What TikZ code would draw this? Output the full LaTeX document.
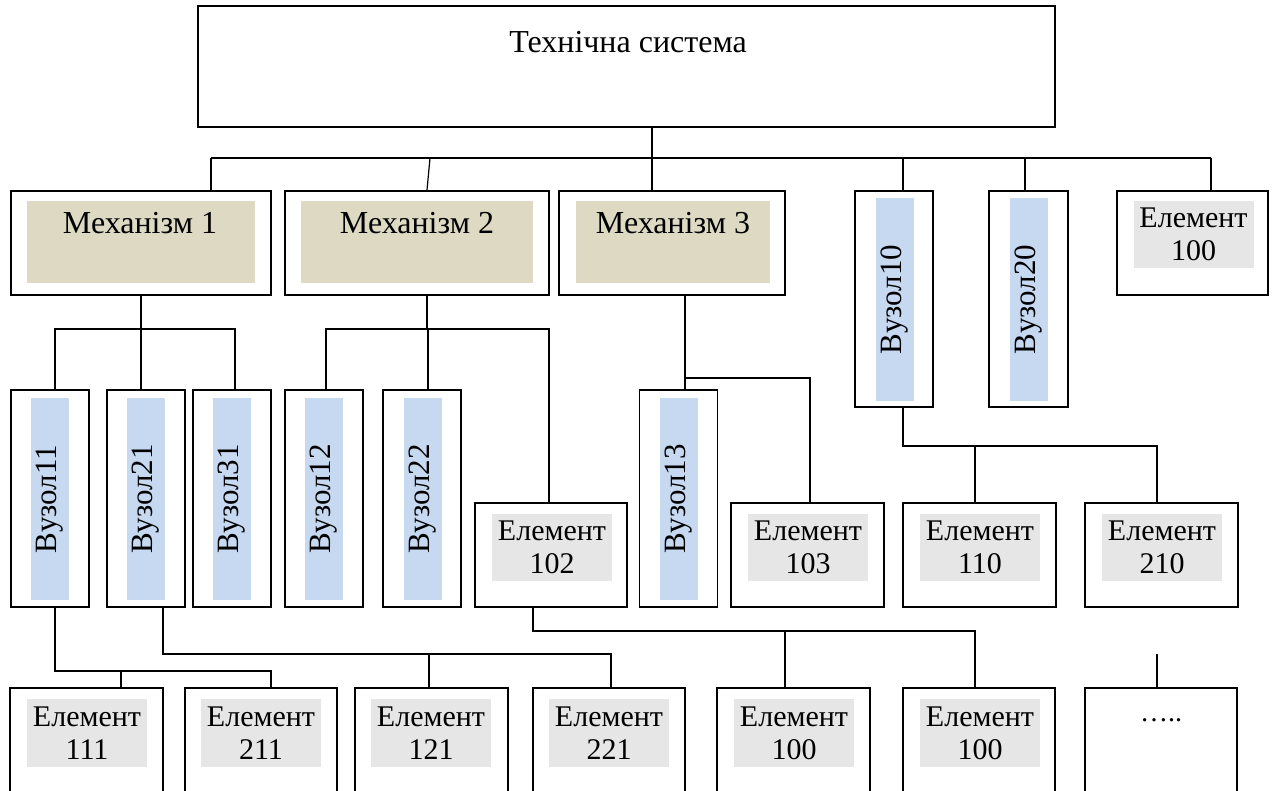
\documentclass[tikz,border=0pt]{standalone}
\usepackage{fontspec}
\setmainfont{Liberation Serif}
\definecolor{mechfill}{HTML}{DDD9C3}
\definecolor{vuzfill}{HTML}{C6D9F1}
\definecolor{elfill}{HTML}{E6E6E6}
\begin{document}
\begin{tikzpicture}[x=1pt,y=-1pt,
  outerbox/.style={draw=black, line width=1.6pt, inner sep=0pt},
  mechin/.style={fill=mechfill, inner sep=0pt, minimum width=#1, minimum height=82pt},
  vuzin/.style={fill=vuzfill, inner sep=0pt, rotate=90, minimum width=202pt, minimum height=38pt, font=\fontsize{31}{33}\selectfont},
  elin/.style={fill=elfill, inner sep=0pt, align=center, minimum width=120pt, minimum height=67pt, font=\fontsize{30}{33}\selectfont},
  lbl/.style={inner sep=0pt, font=\fontsize{32}{33}\selectfont},
  conn/.style={line width=1.2pt, line join=miter}
]
\useasboundingbox (0,0) rectangle (1273,791);
\clip (0,0) rectangle (1273,791);

% top
\node[outerbox, minimum width=857pt, minimum height=121pt] (top) at (626.5,66.5) {};
\node[lbl] (toplbl) at (628,42) {Технічна система};

% row 1
\node[outerbox, minimum width=260pt, minimum height=104pt] (m1) at (141,243) {};
\node[mechin=228pt] (m1in) at (141,242) {};
\node[lbl] (m1t) at (140,223) {Механізм 1};
\node[outerbox, minimum width=264pt, minimum height=104pt] (m2) at (417,243) {};
\node[mechin=232pt] (m2in) at (417,242) {};
\node[lbl] (m2t) at (417,223) {Механізм 2};
\node[outerbox, minimum width=226pt, minimum height=104pt] (m3) at (672,243) {};
\node[mechin=194pt] (m3in) at (673,242) {};
\node[lbl] (m3t) at (673,223) {Механізм 3};
\node[outerbox, minimum width=78pt, minimum height=216pt] (v10) at (894,299) {};
\node[vuzin] (v10in) at (895,299.5) {Вузол10};
\node[outerbox, minimum width=79pt, minimum height=216pt] (v20) at (1028.5,299) {};
\node[vuzin] (v20in) at (1029,299.5) {Вузол20};
\node[outerbox, minimum width=151pt, minimum height=104pt] (e100t) at (1192.5,243) {};
\node[elin] (e100tin) at (1193.5,234.5) {Елемент\\100};

% row 3
\foreach \n/\cx in {v11/50, v21/146, v31/232, v12/324, v22/422, v13/678.5}{
  \node[outerbox, minimum width=78pt, minimum height=217pt] (\n) at (\cx,498.5) {};
}
\node[vuzin] (v11in) at (50,499) {Вузол11};
\node[vuzin] (v21in) at (146,499) {Вузол21};
\node[vuzin] (v31in) at (232,499) {Вузол31};
\node[vuzin] (v12in) at (324,499) {Вузол12};
\node[vuzin] (v22in) at (423,499) {Вузол22};
\node[vuzin] (v13in) at (679,499) {Вузол13};

\node[outerbox, minimum width=152pt, minimum height=104pt] (e102) at (551,555) {};
\node[elin] (e102in) at (552,547.5) {Елемент\\102};
\node[outerbox, minimum width=153pt, minimum height=104pt] (e103) at (807.5,555) {};
\node[elin] (e103in) at (808,547.5) {Елемент\\103};
\node[outerbox, minimum width=153pt, minimum height=104pt] (e110) at (979.5,555) {};
\node[elin] (e110in) at (980,547.5) {Елемент\\110};
\node[outerbox, minimum width=153pt, minimum height=104pt] (e210) at (1161.5,555) {};
\node[elin] (e210in) at (1162,547.5) {Елемент\\210};

% row 4
\node[outerbox, minimum width=153pt, minimum height=140pt] (e111) at (86.5,758) {};
\node[elin, minimum height=68pt] (e111in) at (87,733) {Елемент\\111};
\node[outerbox, minimum width=152pt, minimum height=140pt] (e211) at (261,758) {};
\node[elin, minimum height=68pt] (e211in) at (261,733) {Елемент\\211};
\node[outerbox, minimum width=153pt, minimum height=140pt] (e121) at (431.5,758) {};
\node[elin, minimum height=68pt] (e121in) at (431,733) {Елемент\\121};
\node[outerbox, minimum width=152pt, minimum height=140pt] (e221) at (609,758) {};
\node[elin, minimum height=68pt] (e221in) at (609,733) {Елемент\\221};
\node[outerbox, minimum width=153pt, minimum height=140pt] (e100a) at (793.5,758) {};
\node[elin, minimum height=68pt] (e100ain) at (794,733) {Елемент\\100};
\node[outerbox, minimum width=152pt, minimum height=140pt] (e100b) at (979,758) {};
\node[elin, minimum height=68pt] (e100bin) at (980,733) {Елемент\\100};
\node[outerbox, minimum width=152pt, minimum height=140pt] (dots) at (1161,758) {};
\node[inner sep=0pt, font=\fontsize{28}{33}\selectfont] (dotst) at (1161,720) {…..};

% connectors: level 1
\coordinate (j0) at (652,158);
\coordinate (jL) at (211,158);
\coordinate (jR) at (1211,158);
\draw[conn] (top.south -| j0) -- (j0);
\draw[conn] (jL) -- (jR);
\draw[conn] (jL) -- (jL |- m1.north);
\draw[conn] (430,158) -- (m2.north -| 427,0);
\draw[conn] (j0) -- (j0 |- m3.north);
\draw[conn] (903,158) -- (v10.north -| 903,0);
\draw[conn] (1025,158) -- (v20.north -| 1025,0);
\draw[conn] (jR) -- (jR |- e100t.north);

% Mechanism 1
\coordinate (a0) at (141,329);
\draw[conn] (m1.south -| a0) -- (a0);
\draw[conn] (v11.north -| 55,0) -- (55,329) -- (235,329) -- (v31.north -| 235,0);
\draw[conn] (a0) -- (a0 |- v21.north);

% Mechanism 2
\coordinate (b0) at (427,329);
\draw[conn] (m2.south -| b0) -- (b0);
\draw[conn] (v12.north -| 326,0) -- (326,329) -- (549,329) -- (e102.north -| 549,0);
\draw[conn] (428,329) -- (v22.north -| 428,0);

% Mechanism 3
\coordinate (c0) at (685,378);
\draw[conn] (m3.south -| c0) -- (v13.north -| c0);
\draw[conn] (c0) -- (810,378) -- (e103.north -| 810,0);

% Vuzol10
\coordinate (d0) at (903,446);
\draw[conn] (v10.south -| d0) -- (d0) -- (1157,446) -- (e210.north -| 1157,0);
\draw[conn] (975,446) -- (e110.north -| 975,0);

% Vuzol11
\coordinate (f0) at (55,671);
\draw[conn] (v11.south -| f0) -- (f0) -- (271,671) -- (e211.north -| 271,0);
\draw[conn] (121,671) -- (e111.north -| 121,0);

% Vuzol21
\coordinate (g0) at (163,654);
\draw[conn] (v21.south -| g0) -- (g0) -- (611,654) -- (e221.north -| 611,0);
\draw[conn] (429,654) -- (e121.north -| 429,0);

% Element 102
\coordinate (h0) at (533,631);
\draw[conn] (e102.south -| h0) -- (h0) -- (975,631) -- (e100b.north -| 975,0);
\draw[conn] (785,631) -- (e100a.north -| 785,0);

% dots
\coordinate (k0) at (1157,654);
\draw[conn] (k0) -- (k0 |- dots.north);
\end{tikzpicture}
\end{document}
